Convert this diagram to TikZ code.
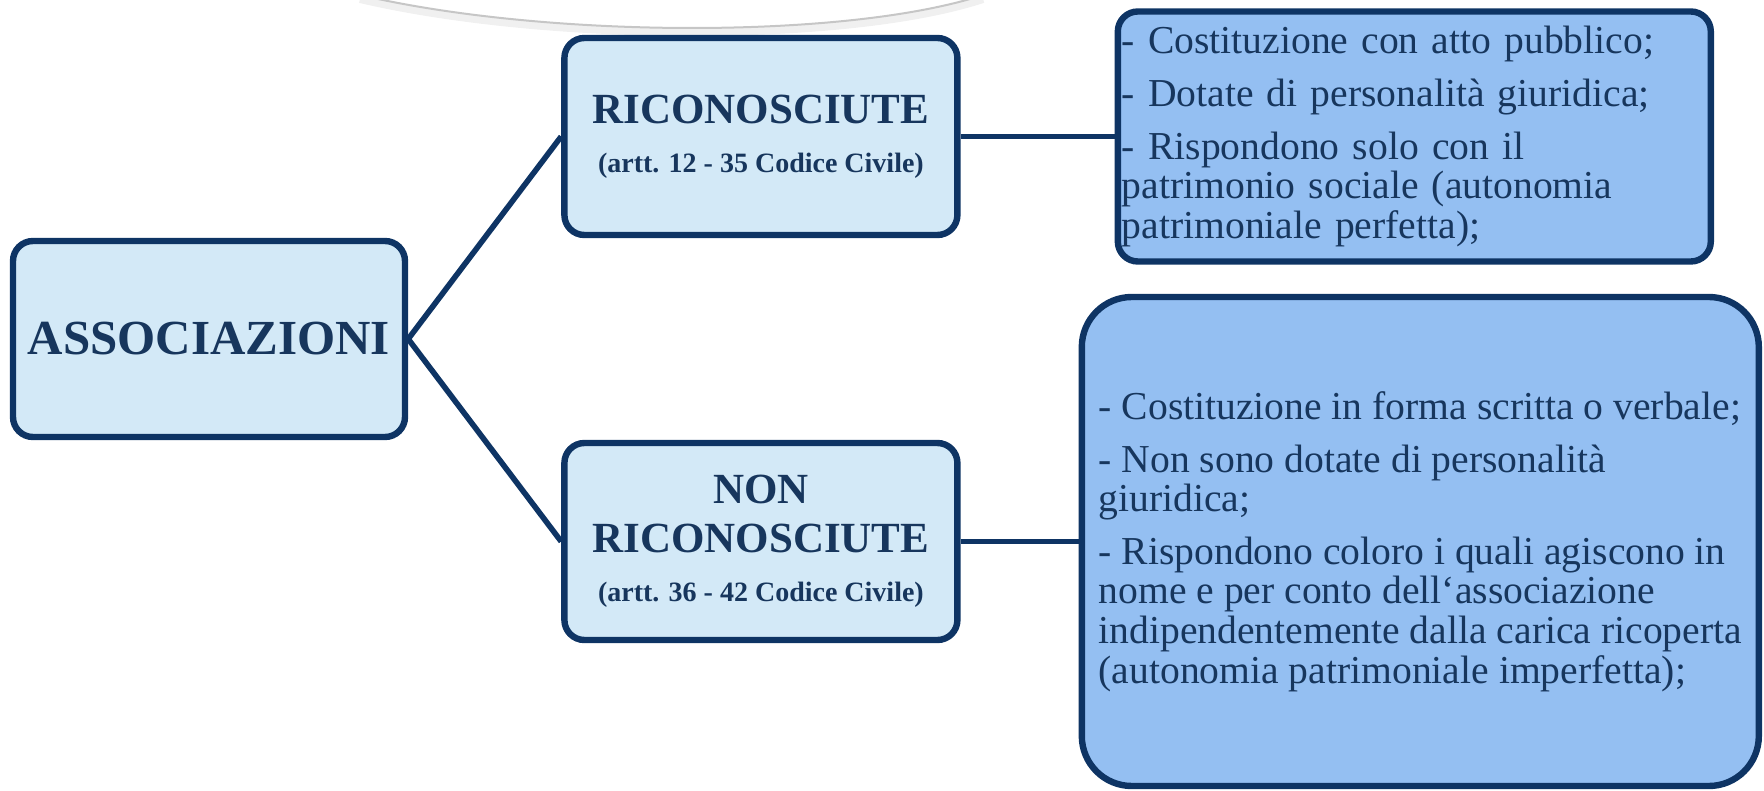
\documentclass[tikz,border=0pt]{standalone}
\usepackage{fontspec}
\setmainfont{Liberation Serif}
\usetikzlibrary{positioning}
\definecolor{navy}{HTML}{0E3464}
\definecolor{ink}{HTML}{17365D}
\definecolor{palefill}{HTML}{D3E9F7}
\definecolor{notefill}{HTML}{94BFF2}
\newcommand{\artref}[1]{{\fontsize{14}{24.5}\selectfont(artt. #1 Codice Civile)}}

\begin{document}
\begin{tikzpicture}[
    node distance=76.5pt,
    box/.style={draw=navy, line width=3.2pt, rounded corners=10pt, text=ink, align=center, inner sep=2pt},
    root/.style={box, fill=palefill, minimum width=196pt, minimum height=98pt, font=\fontsize{24.5}{28}\selectfont\bfseries},
    kind/.style={box, fill=palefill, minimum width=196.5pt, minimum height=98.5pt, font=\fontsize{21.5}{24.5}\selectfont\bfseries},
    note/.style={box, fill=notefill, align=left, font=\fontsize{19.8}{19.8}\selectfont},
    link/.style={draw=navy, line width=2.8pt}
]
\useasboundingbox (-104.5pt,-226pt) rectangle (777.5pt,169.5pt);

% faint arc at the top edge
\draw[gray!12, line width=4pt] (75.5pt,170pt) .. controls (170pt,148pt) and (320pt,148pt) .. (387pt,170pt);
\draw[gray!45, line width=1pt] (75.5pt,172pt) .. controls (170pt,150pt) and (320pt,150pt) .. (387pt,172pt);

% Root (left column)
\node[root] (assoc) {ASSOCIAZIONI};

% Kinds (middle column)
\node[kind, right=of assoc, yshift=101.25pt] (ric) {RICONOSCIUTE\\\artref{12 - 35}};
\node[kind, right=of assoc, yshift=-101.25pt] (nonric) {NON\\RICONOSCIUTE\\\artref{36 - 42}};

% Notes (right column)
\node[note, right=77pt of ric, text width=292.5pt, minimum height=125pt] (ricnote) {%
- Costituzione con atto pubblico;\\[6.5pt]
- Dotate di personalità giuridica;\\[6.5pt]
- Rispondono solo con il\\patrimonio sociale (autonomia\\patrimoniale perfetta);};
\node[note, right=59pt of nonric, minimum width=338.5pt, minimum height=244.5pt, rounded corners=25pt] (nonnote) {%
- Costituzione in forma scritta o verbale;\\[6.5pt]
- Non sono dotate di personalità\\giuridica;\\[6.5pt]
- Rispondono coloro i quali agiscono in\\nome e per conto dell‘associazione\\indipendentemente dalla carica ricoperta\\(autonomia patrimoniale imperfetta);};

% Root to kinds
\draw[link] (assoc.east) -- (ric.west);
\draw[link] (assoc.east) -- (nonric.west);

% Kinds to notes
\draw[link] (ric.east) -- (ricnote.west);
\draw[link] (nonric.east) -- (nonnote.west);

\end{tikzpicture}
\end{document}
